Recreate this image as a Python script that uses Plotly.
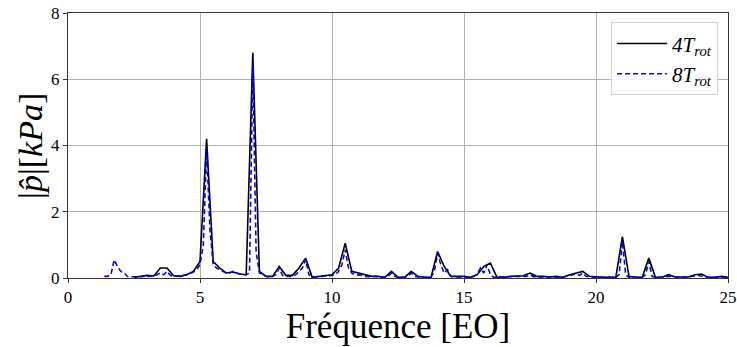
import numpy as np
import plotly.graph_objects as go

# 4 T_rot spectrum (resolution 0.25 EO), starting at 2.5 EO
f4_start = 2.5
f4_step = 0.25
p4 = [
    0.02, 0.05, 0.08, 0.06, 0.30, 0.30, 0.07, 0.05, 0.10, 0.20,   # 2.5 - 4.75
    0.50, 4.20, 0.50, 0.30, 0.15, 0.18, 0.12, 0.10, 6.80, 0.20,   # 5.0 - 7.25
    0.05, 0.05, 0.35, 0.08, 0.08, 0.30, 0.60, 0.02, 0.05, 0.08,   # 7.5 - 9.75
    0.10, 0.30, 1.05, 0.20, 0.15, 0.08, 0.05, 0.05, 0.02, 0.20,   # 10.0 - 12.25
    0.02, 0.02, 0.20, 0.05, 0.02, 0.02, 0.80, 0.35, 0.05, 0.05,   # 12.5 - 14.75
    0.05, 0.02, 0.10, 0.35, 0.45, 0.02, 0.02, 0.05, 0.07, 0.07,   # 15.0 - 17.25
    0.15, 0.05, 0.05, 0.03, 0.05, 0.02, 0.10, 0.15, 0.20, 0.05,   # 17.5 - 19.75
    0.03, 0.02, 0.02, 0.02, 1.25, 0.05, 0.02, 0.02, 0.60, 0.02,   # 20.0 - 22.25
    0.02, 0.10, 0.03, 0.02, 0.03, 0.10, 0.12, 0.02, 0.02, 0.05,   # 22.5 - 24.75
    0.02,                                                          # 25.0
]

# 8 T_rot spectrum (resolution 0.125 EO), starting at 1.375 EO
f8_start = 1.375
f8_step = 0.125
p8 = [
    0.05, 0.05, 0.10, 0.55, 0.35,                                  # 1.375 - 1.875
    0.20, 0.15, 0.05, 0.04, 0.03, 0.04, 0.04, 0.05,                # 2.0 - 2.875
    0.06, 0.05, 0.06, 0.10, 0.15, 0.10, 0.20, 0.08,                # 3.0 - 3.875
    0.05, 0.06, 0.06, 0.08, 0.10, 0.14, 0.18, 0.25,                # 4.0 - 4.875
    0.40, 1.00, 3.90, 1.50, 0.40, 0.30, 0.25, 0.20,                # 5.0 - 5.875
    0.15, 0.15, 0.20, 0.15, 0.12, 0.10, 0.10, 0.15,                # 6.0 - 6.875
    6.50, 0.80, 0.15, 0.10, 0.05, 0.03, 0.05, 0.10,                # 7.0 - 7.875
    0.30, 0.08, 0.05, 0.05, 0.05, 0.10, 0.20, 0.30,                # 8.0 - 8.875
    0.55, 0.10, 0.03, 0.03, 0.04, 0.05, 0.06, 0.06,                # 9.0 - 9.875
    0.08, 0.10, 0.20, 0.40, 0.85, 0.30, 0.15, 0.10,                # 10.0 - 10.875
    0.10, 0.08, 0.05, 0.04, 0.04, 0.05, 0.03, 0.02,                # 11.0 - 11.875
    0.02, 0.05, 0.15, 0.05, 0.02, 0.02, 0.02, 0.05,                # 12.0 - 12.875
    0.15, 0.05, 0.03, 0.02, 0.02, 0.02, 0.02, 0.20,                # 13.0 - 13.875
    0.75, 0.40, 0.15, 0.25, 0.05, 0.03, 0.03, 0.04,                # 14.0 - 14.875
    0.04, 0.03, 0.02, 0.05, 0.12, 0.30, 0.15, 0.40,                # 15.0 - 15.875
    0.10, 0.02, 0.02, 0.02, 0.03, 0.02, 0.04, 0.05,                # 16.0 - 16.875
    0.05, 0.04, 0.06, 0.05, 0.10, 0.04, 0.03, 0.03,                # 17.0 - 17.875
    0.03, 0.02, 0.03, 0.02, 0.04, 0.03, 0.02, 0.05,                # 18.0 - 18.875
    0.08, 0.10, 0.12, 0.08, 0.15, 0.05, 0.03, 0.02,                # 19.0 - 19.875
    0.02, 0.02, 0.02, 0.02, 0.02, 0.02, 0.02, 0.10,                # 20.0 - 20.875
    1.10, 0.10, 0.02, 0.02, 0.02, 0.02, 0.02, 0.10,                # 21.0 - 21.875
    0.50, 0.05, 0.02, 0.02, 0.02, 0.02, 0.05, 0.04,                # 22.0 - 22.875
    0.02, 0.02, 0.02, 0.02, 0.02, 0.05, 0.06, 0.08,                # 23.0 - 23.875
    0.06, 0.02, 0.02, 0.02, 0.02, 0.02, 0.04, 0.02,                # 24.0 - 24.875
    0.02,                                                          # 25.0
]

f4 = f4_start + f4_step * np.arange(len(p4))
f8 = f8_start + f8_step * np.arange(len(p8))

x_ticks = [0, 5, 10, 15, 20, 25]
y_ticks = [0, 2, 4, 6, 8]

serif = "Liberation Serif"

fig = go.Figure()
fig.add_trace(go.Scatter(
    x=f4, y=p4, mode="lines", name="<i>4T<sub>rot</sub></i>",
    line=dict(color="black", width=1.6),
))
fig.add_trace(go.Scatter(
    x=f8, y=p8, mode="lines", name="<i>8T<sub>rot</sub></i>",
    line=dict(color="blue", width=1.6, dash="5px,3px"),
))

axis_common = dict(
    showline=True, linecolor="#333333", linewidth=1, mirror=True,
    ticks="outside", ticklen=4, tickcolor="#333333",
    showgrid=True, gridcolor="#b0b0b0", gridwidth=1,
    zeroline=False, automargin=False, ticklabeloverflow="allow",
    tickfont=dict(family=serif, size=17, color="black"),
)

fig.update_layout(
    width=737, height=347,
    margin=dict(l=68, r=9, t=13, b=69),
    paper_bgcolor="white", plot_bgcolor="white",
    font=dict(family=serif, color="black"),
    xaxis=dict(range=[0, 25], tickvals=x_ticks,
               title=dict(text="Fréquence [EO]", font=dict(family=serif, size=35, color="black"), standoff=0),
               **axis_common),
    yaxis=dict(range=[0, 8], tickvals=y_ticks, **axis_common),
    legend=dict(
        x=0.985, y=0.965, xanchor="right", yanchor="top",
        bgcolor="rgba(255,255,255,0.85)", bordercolor="#d0d0d0", borderwidth=1,
        font=dict(family=serif, size=21, color="black"),
        itemwidth=50, tracegroupgap=2,
    ),
    annotations=[dict(
        text="|<i>p̂</i>|[<i>kPa</i>]", textangle=-90,
        xref="paper", yref="paper", x=-0.057, y=0.5,
        xanchor="center", yanchor="middle", showarrow=False,
        font=dict(family=serif, size=34, color="black"),
    )],
    showlegend=True,
)

fig.write_html(
    "out.html",
    config={"displayModeBar": False},
    post_script="document.body.style.margin='0';document.body.style.padding='0';",
)
